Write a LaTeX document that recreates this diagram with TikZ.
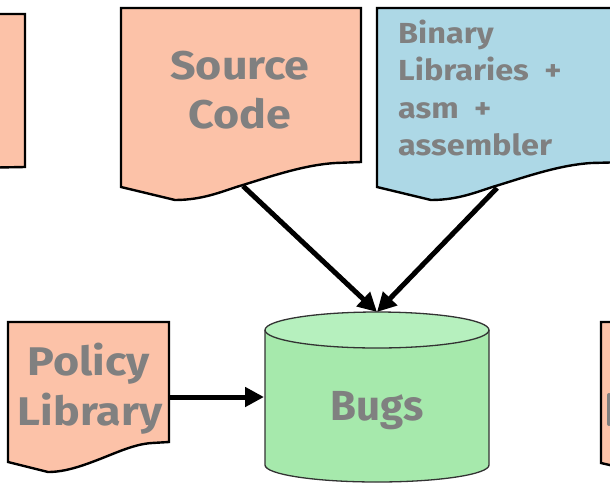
\documentclass[tikz,border=0pt]{standalone}
\usepackage{fontspec}
\setmainfont{Fira Sans}
\newfontfamily\widesans{Fira Sans}[FakeStretch=1.12]
\usetikzlibrary{arrows.meta}
\definecolor{salmon}{RGB}{252,194,168}
\definecolor{binblue}{RGB}{173,216,230}
\definecolor{bodygreen}{RGB}{166,233,172}
\definecolor{topgreen}{RGB}{182,240,190}
\definecolor{labelgray}{RGB}{128,128,128}
\tikzset{
  docshape/.style={draw=black, line width=2.4pt, line join=miter},
  label/.style={text=labelgray, inner sep=0pt, font=\bfseries},
  bigtxt/.style={label, font=\widesans\bfseries\fontsize{40}{48}\selectfont},
  smalltxt/.style={label, font=\widesans\bfseries\fontsize{29}{35}\selectfont},
  flow/.style={line width=5pt, -{Triangle[length=19pt,width=19pt]}},
  cylline/.style={draw=black!80, line width=1.3pt}
}
\begin{document}
\begin{tikzpicture}[x=1pt, y=-1pt]
\useasboundingbox (0,0) rectangle (610,485);
\clip (0,0) rectangle (610,485);

% partly visible document on the left edge
\draw[docshape, fill=salmon] (-30,14) -- (25,14) -- (25,167) -- (-30,168);

% Source Code document
\draw[docshape, fill=salmon] (121,8) -- (361,8) -- (361,162) -- (335,163)
  .. controls (305,165) and (275,175) .. (243,185)
  .. controls (225,190) and (205,200) .. (175,200) -- (121,187) -- cycle;
\coordinate (src-out) at (243,186);
\node[bigtxt, anchor=base] (src1) at (240,79) {Source};
\node[bigtxt, anchor=base] (src2) at (240,128) {Code};

% Binary libraries document (runs past the right edge)
\draw[docshape, fill=binblue] (377,8) -- (630,8) -- (630,162) -- (591,163)
  .. controls (561,165) and (531,175) .. (499,185)
  .. controls (481,190) and (461,200) .. (431,200) -- (377,187) -- cycle;
\coordinate (bin-out) at (497,188);
\node[smalltxt, anchor=base west] (bin1) at (398,43) {Binary};
\node[smalltxt, anchor=base west] (bin2) at (398,80) {Libraries\ \ +};
\node[smalltxt, anchor=base west] (bin3) at (398,118) {asm\ \ +};
\node[smalltxt, anchor=base west] (bin4) at (398,155) {assembler};

% Policy Library document
\draw[docshape, fill=salmon] (8,322) -- (169,322) -- (169,442) -- (152,443)
  .. controls (135,444) and (118,452) .. (100,459)
  .. controls (82,466) and (65,472) .. (48,472) -- (8,462) -- cycle;
\coordinate (pol-out) at (169,397);
\node[bigtxt, anchor=base] (pol1) at (89,375) {Policy};
\node[bigtxt, anchor=base] (pol2) at (90,425) {Library};

% partly visible document on the right edge
\draw[docshape, fill=salmon] (640,322) -- (601,322) -- (601,463) -- (640,472);
\draw[labelgray, line width=4pt, line cap=round] (609,395) -- (609,424);

% Bugs database cylinder
\fill[bodygreen] (265,330) -- (265,465)
  arc[start angle=180, end angle=360, x radius=112pt, y radius=17pt]
  -- (489,330) -- cycle;
\draw[cylline] (265,330) -- (265,465)
  arc[start angle=180, end angle=360, x radius=112pt, y radius=17pt]
  -- (489,330);
\draw[cylline, fill=topgreen] (377,330) ellipse[x radius=112pt, y radius=18pt];
\coordinate (bugs-top) at (377,312);
\coordinate (bugs-left) at (264,397);
\node[label, anchor=base, font=\bfseries\fontsize{42}{50}\selectfont] (bugs) at (377,420) {Bugs};

% data flowing into the bug database
\draw[flow] (src-out) -- (bugs-top);
\draw[flow] (bin-out) -- (bugs-top);
\draw[flow] (pol-out) -- (bugs-left);
\end{tikzpicture}
\end{document}
